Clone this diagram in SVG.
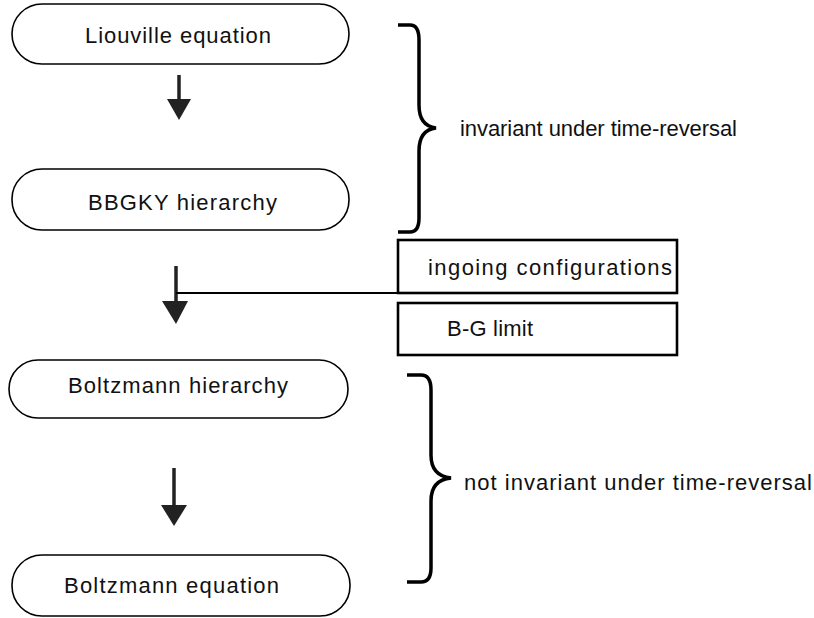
<svg xmlns="http://www.w3.org/2000/svg" width="814" height="618" viewBox="0 0 814 618">
<style>
.node{fill:#fff;stroke:#000;stroke-width:1.6}
.box{fill:#fff;stroke:#000;stroke-width:2.6}
.t{font-family:"Liberation Sans",Arial,sans-serif;font-size:22px;fill:#111}
.shaft{stroke:#222;stroke-width:3.5;fill:none}
.head{fill:#222}
.brace{fill:none;stroke:#000;stroke-width:3.5;stroke-linecap:butt}
.conn{stroke:#000;stroke-width:2;fill:none}
</style>
<rect width="814" height="618" fill="#fff"/>
<g id="node-liouville">
<rect class="node" x="12" y="4" width="337" height="60" rx="30"/>
<text class="t" x="85" y="43" textLength="186" lengthAdjust="spacing">Liouville equation</text>
</g>
<g id="node-bbgky">
<rect class="node" x="12" y="169" width="337" height="61" rx="30"/>
<text class="t" x="88" y="210" textLength="189" lengthAdjust="spacing">BBGKY hierarchy</text>
</g>
<g id="node-boltzmann-hierarchy">
<rect class="node" x="9" y="360" width="339" height="58" rx="29"/>
<text class="t" x="68" y="393" textLength="220" lengthAdjust="spacing">Boltzmann hierarchy</text>
</g>
<g id="node-boltzmann-equation">
<rect class="node" x="12" y="555" width="338" height="61" rx="30"/>
<text class="t" x="64" y="593" textLength="215" lengthAdjust="spacing">Boltzmann equation</text>
</g>
<g id="node-ingoing">
<rect class="box" x="398" y="240" width="279" height="53"/>
<text class="t" x="428" y="275" textLength="244" lengthAdjust="spacing">ingoing configurations</text>
</g>
<g id="node-bg-limit">
<rect class="box" x="398" y="303" width="279" height="52"/>
<text class="t" x="447" y="336" textLength="86" lengthAdjust="spacing">B-G limit</text>
</g>
<g id="label-invariant">
<path class="brace" d="M398 25 H410 Q419 25 419 40 V105 Q419 126 436 128 Q419 130 419 151 V218 Q419 232 410 232 H398"/>
<text class="t" x="460" y="136" textLength="277" lengthAdjust="spacing">invariant under time-reversal</text>
</g>
<g id="label-not-invariant">
<path class="brace" d="M407 375 H421 Q431 375 431 390 V455 Q431 476 451 478 Q431 480 431 501 V568 Q431 582 421 582 H407"/>
<text class="t" x="464" y="490" textLength="348" lengthAdjust="spacing">not invariant under time-reversal</text>
</g>
<g id="connectors">
<line class="shaft" x1="179" y1="75" x2="179" y2="102"/>
<polygon class="head" points="167,99 191,99 179,120"/>
<line class="shaft" x1="176" y1="266" x2="176" y2="304"/>
<polygon class="head" points="162,301 188,301 176,324"/>
<line class="conn" x1="176" y1="293" x2="398" y2="293"/>
<line class="shaft" x1="174" y1="468" x2="174" y2="508"/>
<polygon class="head" points="161,505 187,505 174,526"/>
</g>
</svg>
